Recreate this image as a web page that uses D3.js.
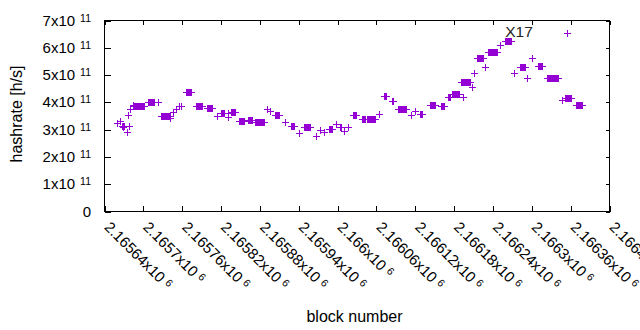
<!DOCTYPE html>
<html>
<head>
<meta charset="utf-8">
<script src="https://cdn.jsdelivr.net/npm/d3@7/dist/d3.min.js"></script>
<style>
    body { margin: 0; background: #fff; }
    svg text { font-family: "Liberation Sans", Arial, sans-serif; fill: #000; }
</style>
</head>
<body>
<svg id="chart" width="640" height="330"></svg>
<script>
// runs of consecutive blocks that share one hashrate estimate (values in 10^11 h/s)
const runStart = [
    2165660, 2165664, 2165667, 2165669, 2165675, 2165676, 2165678, 2165679, 2165684, 2165686,
    2165693, 2165707, 2165723, 2165727, 2165741, 2165746, 2165751, 2165755, 2165758, 2165766,
    2165781, 2165798, 2165813, 2165820, 2165830, 2165830, 2165836, 2165848, 2165862, 2165873,
    2165891, 2165895, 2165904, 2165919, 2165928, 2165940, 2165948, 2165967, 2165973, 2165979,
    2165986, 2165998, 2166004, 2166010, 2166016, 2166024, 2166037, 2166046, 2166064, 2166072,
    2166084, 2166094, 2166113, 2166119, 2166128, 2166142, 2166160, 2166171, 2166177, 2166193,
    2166191, 2166208, 2166210, 2166216, 2166228, 2166233, 2166251, 2166259, 2166273, 2166281,
    2166293, 2166301, 2166310, 2166324, 2166347, 2166352, 2166355, 2166369
];
const runEnd = [
    2165660, 2165664, 2165670, 2165669, 2165675, 2165676, 2165678, 2165679, 2165684, 2165692,
    2165701, 2165717, 2165723, 2165741, 2165741, 2165746, 2165751, 2165755, 2165758, 2165774,
    2165791, 2165806, 2165813, 2165825, 2165830, 2165830, 2165842, 2165856, 2165868, 2165887,
    2165891, 2165895, 2165910, 2165919, 2165933, 2165940, 2165958, 2165967, 2165973, 2165979,
    2165992, 2165998, 2166006, 2166010, 2166016, 2166029, 2166043, 2166058, 2166064, 2166075,
    2166086, 2166106, 2166113, 2166119, 2166130, 2166151, 2166165, 2166174, 2166187, 2166193,
    2166205, 2166208, 2166210, 2166224, 2166228, 2166246, 2166251, 2166268, 2166273, 2166290,
    2166293, 2166301, 2166316, 2166340, 2166347, 2166360, 2166355, 2166377
];
const runRate = [
    3.26, 3.30, 3.15, 3.08, 2.93, 3.55, 3.15, 3.74, 3.92, 3.88,
    3.85, 4.03, 4.03, 3.50, 3.41, 3.63, 3.74, 3.85, 3.88, 4.38,
    3.85, 3.79, 3.50, 3.61, 3.61, 3.45, 3.63, 3.33, 3.37, 3.28,
    3.74, 3.70, 3.55, 3.28, 3.13, 2.86, 3.10, 2.78, 2.97, 2.93,
    3.04, 3.19, 3.08, 2.95, 3.11, 3.54, 3.39, 3.39, 3.57, 4.23,
    4.05, 3.76, 3.52, 3.68, 3.59, 3.92, 3.85, 4.21, 4.29, 4.18,
    4.73, 4.58, 5.06, 5.62, 5.31, 5.86, 6.12, 6.25, 5.06, 5.28,
    4.91, 5.62, 5.33, 4.89, 4.10, 4.16, 6.56, 3.92
];

const xTickValues = [
    2165640, 2165700, 2165760, 2165820, 2165880, 2165940, 2166000,
    2166060, 2166120, 2166180, 2166240, 2166300, 2166360, 2166420
];
const yTickValues = [0, 1, 2, 3, 4, 5, 6, 7]; // x10^11

let svg = d3.select("#chart"),
    LEFT = 104.5,
    RIGHT = 609.5,
    TOP = 20.5,
    BOTTOM = 211.5;

let x = d3.scaleLinear().domain([2165640, 2166420]).range([LEFT, RIGHT]);
let y = d3.scaleLinear().domain([0, 7e11]).range([BOTTOM, TOP]);

// one point per block
let points = [];
runStart.forEach(function(s, i) {
    for (let b = s; b <= runEnd[i]; b++) {
        points.push({block: b, rate: runRate[i] * 1e11});
    }
});

// axes: inward ticks on all four sides, labels drawn separately
svg.append("g").attr("transform", "translate(0," + BOTTOM + ")")
    .call(d3.axisBottom(x).tickValues(xTickValues).tickSize(-6).tickSizeOuter(0).tickFormat(""));
svg.append("g").attr("transform", "translate(0," + TOP + ")")
    .call(d3.axisTop(x).tickValues(xTickValues).tickSize(-4).tickSizeOuter(0).tickFormat(""));
svg.append("g").attr("transform", "translate(" + LEFT + ",0)")
    .call(d3.axisLeft(y).tickValues(yTickValues.map(function(v) { return v * 1e11; })).tickSize(-6).tickSizeOuter(0).tickFormat(""));
svg.append("g").attr("transform", "translate(" + RIGHT + ",0)")
    .call(d3.axisRight(y).tickValues(yTickValues.map(function(v) { return v * 1e11; })).tickSize(-4).tickSizeOuter(0).tickFormat(""));
svg.selectAll(".domain").remove();
svg.selectAll(".tick line").attr("stroke", "#000").attr("shape-rendering", "crispEdges");

svg.append("rect")
    .attr("x", LEFT).attr("y", TOP)
    .attr("width", RIGHT - LEFT).attr("height", BOTTOM - TOP)
    .attr("fill", "none").attr("stroke", "#000")
    .attr("shape-rendering", "crispEdges");

// y tick labels
let yLab = svg.append("g").selectAll("text")
    .data(yTickValues)
    .enter().append("text")
    .attr("x", 91)
    .attr("y", function(d) { return y(d * 1e11) + 5; })
    .attr("text-anchor", "end")
    .style("font-size", "15px");
yLab.append("tspan").text(function(d) { return d === 0 ? "0" : d + "x10"; });
yLab.filter(function(d) { return d !== 0; })
    .append("tspan").attr("dx", 5).attr("dy", -4)
    .style("font-size", "10.5px").text("11");

// x tick labels, rotated
let fmt = d3.format(".6~g");
let xLab = svg.append("g").selectAll("text")
    .data(xTickValues)
    .enter().append("text")
    .attr("transform", function(d) { return "translate(" + (x(d) - 1) + ",228) rotate(45)"; })
    .style("font-size", "15px");
xLab.append("tspan").text(function(d) { return fmt(d / 1e6) + "x10"; });
xLab.append("tspan").attr("dx", 4).attr("dy", -4)
    .style("font-size", "10.5px").text("6");

// axis titles
svg.append("text")
    .attr("transform", "translate(22,114) rotate(-90)")
    .attr("text-anchor", "middle")
    .style("font-size", "16px")
    .text("hashrate [h/s]");
svg.append("text")
    .attr("x", 354.5).attr("y", 321.5)
    .attr("text-anchor", "middle")
    .style("font-size", "16px")
    .text("block number");

// data points as '+' markers
svg.append("g").selectAll("path")
    .data(points)
    .enter().append("path")
    .attr("d", function(d) {
        let px = Math.round(x(d.block)) + 0.5,
            py = Math.round(y(d.rate)) + 0.5;
        return "M" + (px - 3.5) + "," + py + "h7M" + px + "," + (py - 3.5) + "v7";
    })
    .attr("stroke", "#9400d3")
    .attr("stroke-width", 1)
    .attr("fill", "none")
    .attr("shape-rendering", "crispEdges");

// point label
svg.append("text")
    .attr("x", x(2166259)).attr("y", y(6.38e11))
    .style("font-size", "15.5px")
    .style("fill", "#222")
    .text("X17");
</script>
</body>
</html>
